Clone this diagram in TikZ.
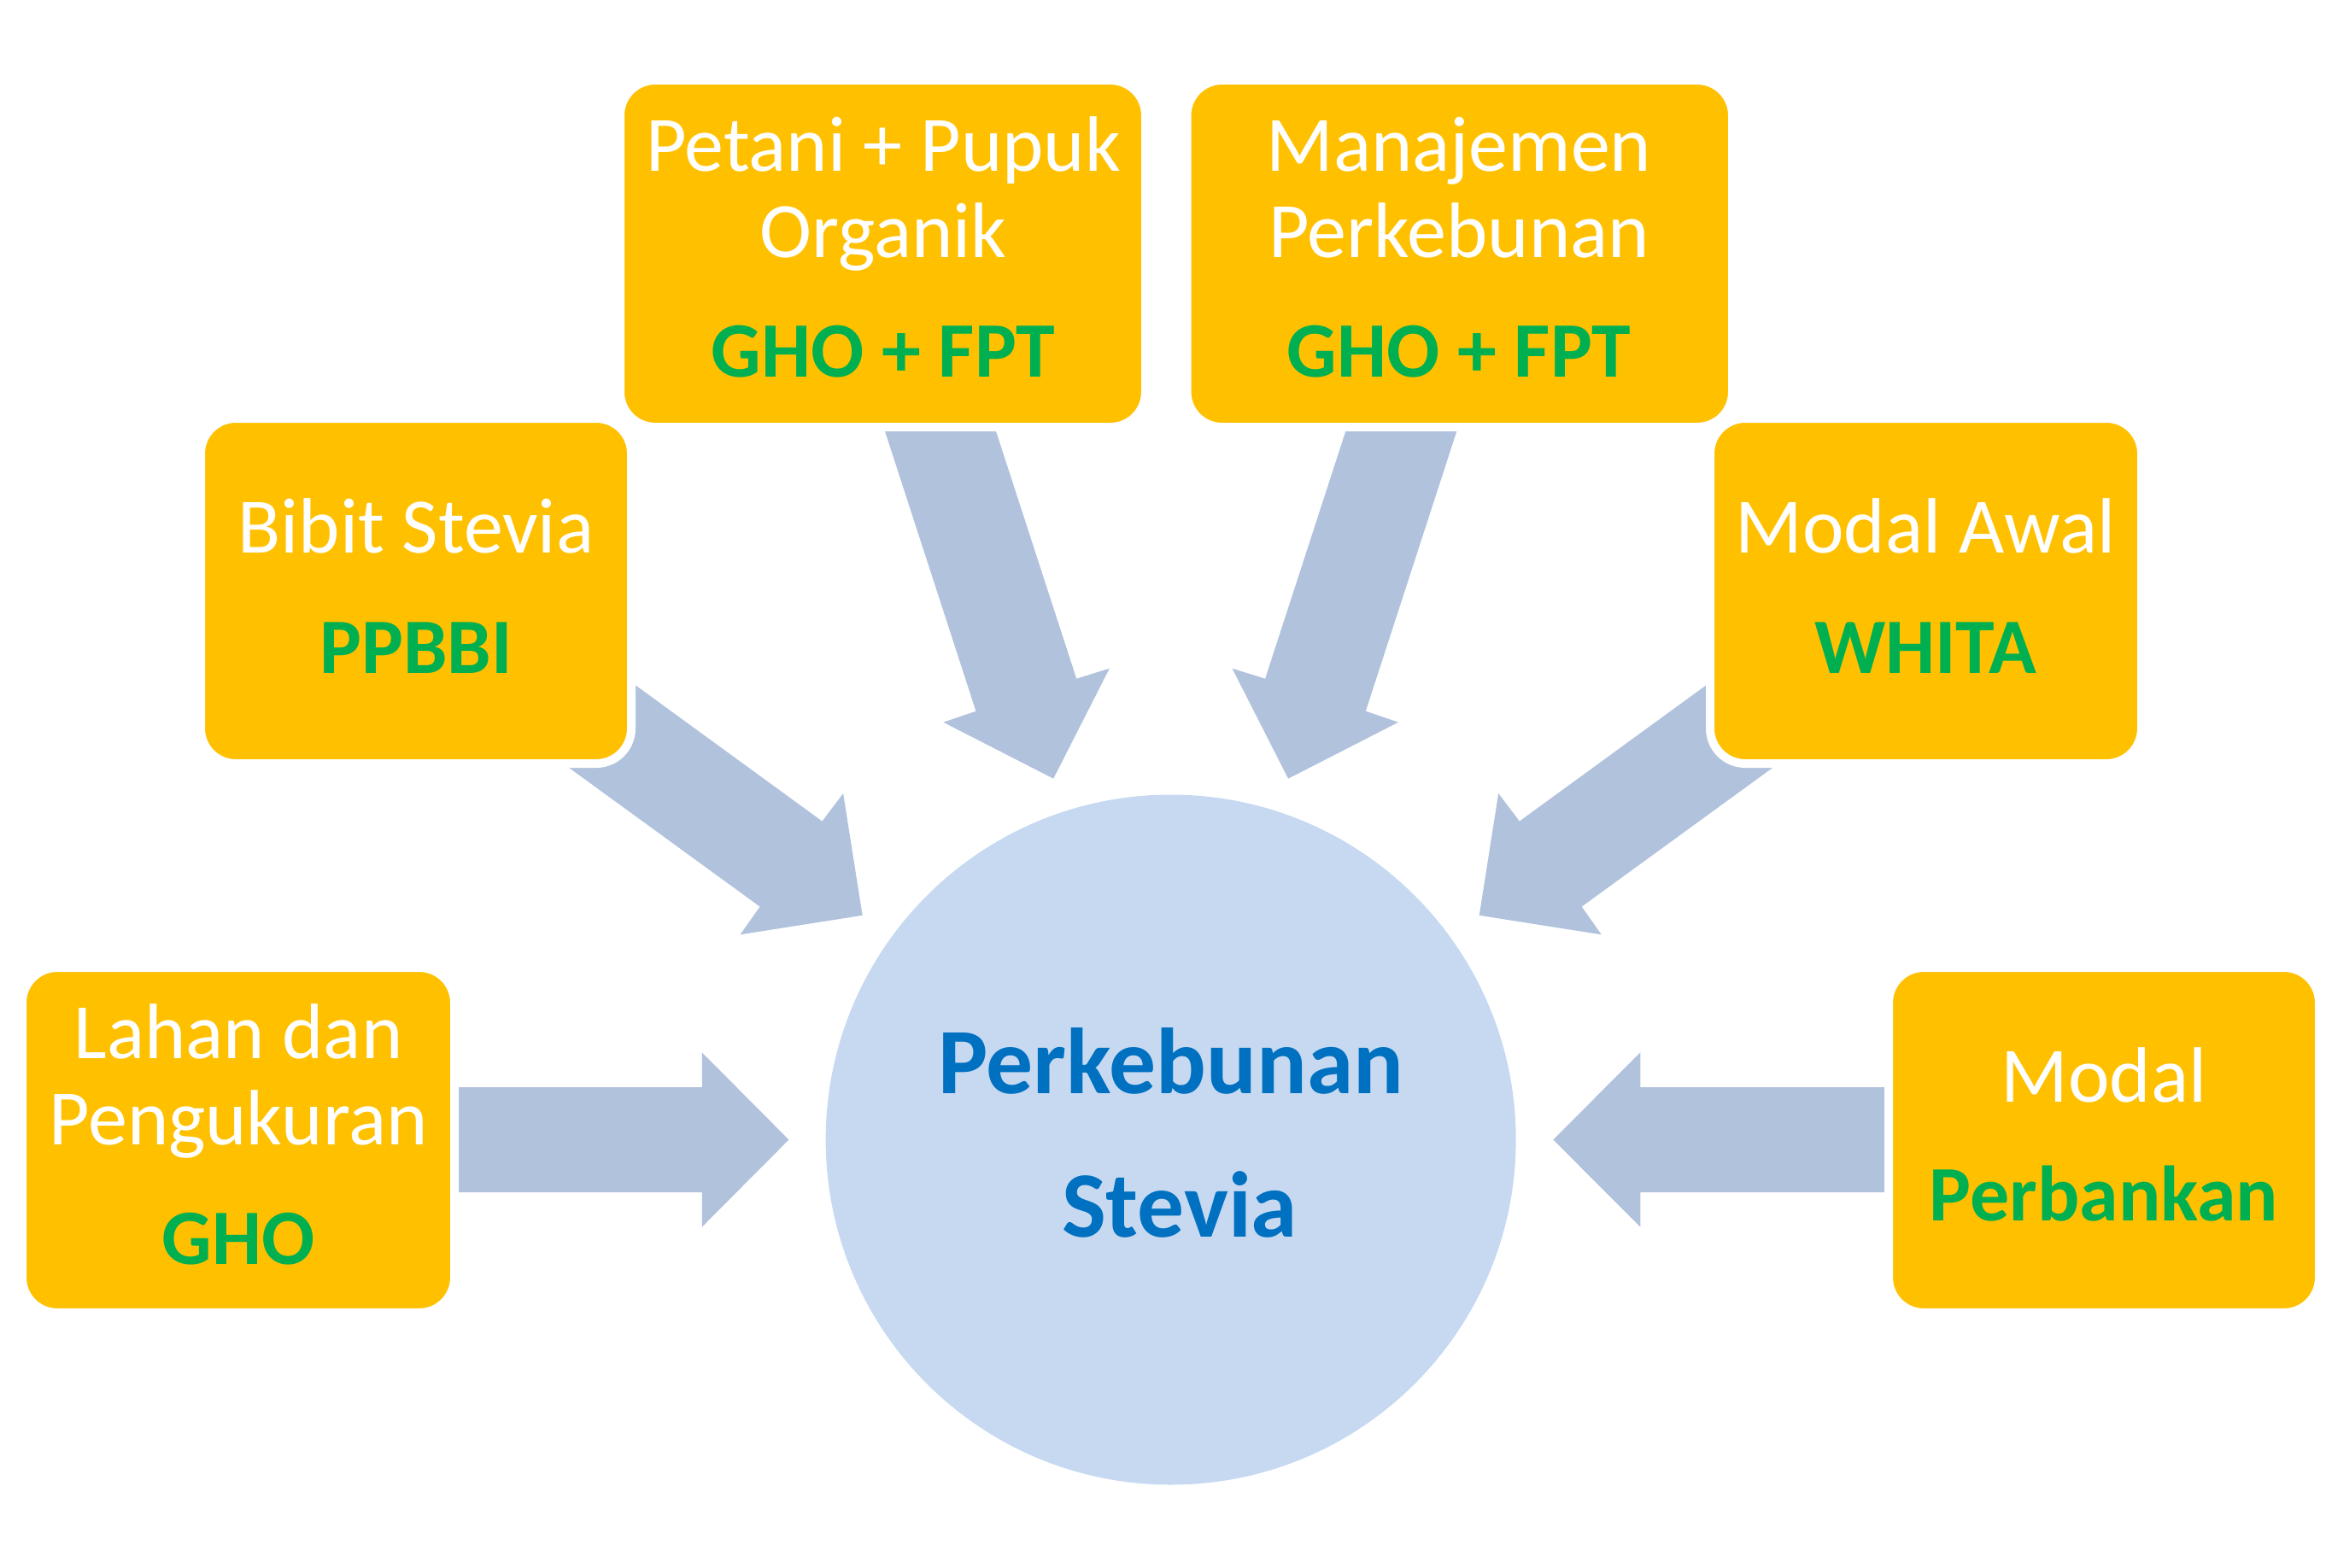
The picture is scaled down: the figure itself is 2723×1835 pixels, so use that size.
\documentclass[tikz,border=0pt]{standalone}
\usepackage{fontspec}
\setmainfont{Carlito}
\definecolor{boxy}{HTML}{FFC000}
\definecolor{arr}{HTML}{B1C2DD}
\definecolor{circ}{HTML}{C6D9F1}
\definecolor{grn}{HTML}{00B050}
\definecolor{blu}{HTML}{0070C0}
\begin{document}
\begin{tikzpicture}[x=0.5pt,y=-0.5pt,
  box/.style={rectangle, rounded corners=20.5pt, fill=boxy, draw=white, line width=5pt, inner sep=0pt},
  wt/.style={anchor=base, inner sep=0pt, text=white, font=\fontsize{46}{55}\selectfont},
  gt/.style={anchor=base, inner sep=0pt, text=grn, font=\fontsize{46}{55}\selectfont\bfseries},
  ct/.style={anchor=base, inner sep=0pt, text=blu, font=\fontsize{54.8}{66}\selectfont\bfseries},
  blockarrow/.style={fill=arr}]
\useasboundingbox (0,0) rectangle (2723,1835);

% block arrows
\fill[blockarrow] (535.8,1273) -- (821.8,1273) -- (821.8,1232.3) -- (923.4,1334.5) -- (821.8,1436.7) -- (821.8,1396) -- (535.8,1396) -- cycle;
\fill[blockarrow] (2207,1273) -- (1920.3,1273) -- (1920.3,1232.3) -- (1818.3,1334.5) -- (1920.3,1436.7) -- (1920.3,1396) -- (2207,1396) -- cycle;
\fill[blockarrow] (679.3,755.2) -- (962.5,961.6) -- (987.1,929.0) -- (1009.6,1071.8) -- (866.6,1094.3) -- (889.6,1061.6) -- (601.6,852) -- cycle;
\fill[blockarrow] (2062,755.2) -- (1778.8,961.6) -- (1754.2,929.0) -- (1731.7,1071.8) -- (1874.7,1094.3) -- (1851.7,1061.6) -- (2139.7,852) -- cycle;
\fill[blockarrow] (1033.4,497) -- (1163.4,497) -- (1260.2,794.7) -- (1298.8,782.7) -- (1233.2,911.7) -- (1104.3,845.7) -- (1142.5,832.7) -- cycle;
\fill[blockarrow] (1707.9,497) -- (1577.9,497) -- (1481.1,794.7) -- (1442.5,782.7) -- (1508.1,911.7) -- (1637,845.7) -- (1598.8,832.7) -- cycle;

% central circle
\node[circle, fill=circ, minimum size=404pt, inner sep=0pt] (hub) at (1370.65,1334.5) {};
\node[ct] (hubA) at (1370.6,1280) {Perkebunan};
\node[ct] (hubB) at (1381,1448.5) {Stevia};

% boxes
\node[box, minimum width=253pt, minimum height=202pt] (lahan) at (279,1335) {};
\node[box, minimum width=252pt, minimum height=202pt] (bibit) at (487,692) {};
\node[box, minimum width=307.5pt, minimum height=203pt] (petani) at (1033.5,297) {};
\node[box, minimum width=319.25pt, minimum height=203pt] (manaj) at (1708.75,297) {};
\node[box, minimum width=252.5pt, minimum height=202pt] (awal) at (2254.5,692) {};
\node[box, minimum width=252pt, minimum height=202pt] (modal) at (2463,1335) {};

% texts
\node[wt] (petaniA) at (1034,200.7) {Petani + Pupuk};
\node[wt] (petaniB) at (1034,301.7) {Organik};
\node[gt] (petaniC) at (1034,441.7) {GHO + FPT};

\node[wt] (manajA) at (1708,200.7) {Manajemen};
\node[wt] (manajB) at (1708,301.7) {Perkebunan};
\node[gt] (manajC) at (1708,441.7) {GHO + FPT};

\node[wt] (bibitA) at (487,647) {Bibit Stevia};
\node[gt] (bibitB) at (487,788) {PPBBI};

\node[wt] (awalA) at (2254,647) {Modal Awal};
\node[gt] (awalB) at (2254,788) {WHITA};

\node[wt] (lahanA) at (279,1239) {Lahan dan};
\node[wt] (lahanB) at (279,1340) {Pengukuran};
\node[gt] (lahanC) at (279,1480.7) {GHO};

\node[wt] (modalA) at (2463,1290) {Modal};
\node[gt] (modalB) at (2463,1429.3) {Perbankan};
\end{tikzpicture}
\end{document}
